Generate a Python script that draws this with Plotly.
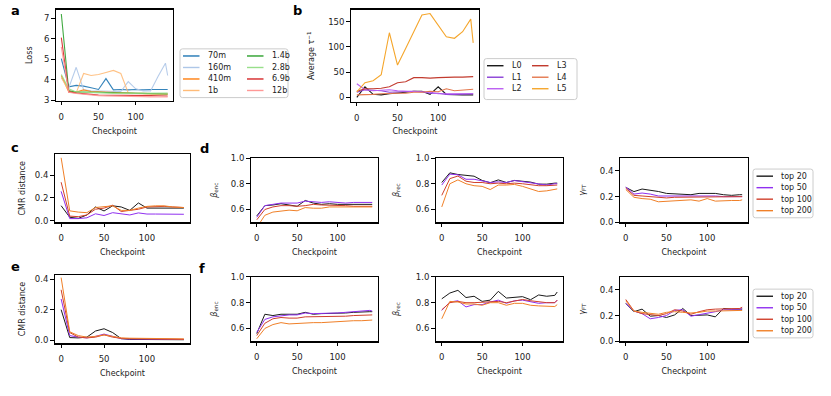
import plotly.graph_objects as go

W, H = 831, 396

checkpoints = [0, 10, 20, 30, 40, 50, 60, 70, 80, 90, 100, 110, 120, 130, 140, 143]

# ---- panel a: loss per model size ----
model_names = ["70m", "160m", "410m", "1b", "1.4b", "2.8b", "6.9b", "12b"]
loss_70m = [5.02, 3.65, 3.72, 3.68, 3.6, 3.52, 4.05, 3.5, 3.52, 3.5, 3.52, 3.5, 3.52, 3.52, 3.52, 3.52]
loss_160m = [4.1, 3.6, 4.6, 3.5, 3.45, 3.45, 3.45, 3.42, 3.42, 3.9, 3.55, 3.45, 3.45, 4.15, 4.8, 4.2]
loss_410m = [4.2, 3.4, 3.4, 3.5, 3.42, 3.4, 3.38, 3.38, 3.35, 3.35, 3.33, 3.33, 3.32, 3.3, 3.3, 3.3]
loss_1b = [4.1, 3.45, 3.35, 4.3, 4.2, 4.25, 4.35, 4.45, 4.3, 3.35, 3.32, 3.3, 3.3, 3.28, 3.28, 3.28]
loss_1_4b = [7.2, 3.45, 3.4, 3.38, 3.38, 3.38, 3.36, 3.35, 3.35, 3.34, 3.33, 3.32, 3.32, 3.31, 3.3, 3.3]
loss_2_8b = [4.25, 3.55, 3.4, 3.38, 3.36, 3.35, 3.35, 3.33, 3.33, 3.33, 3.32, 3.32, 3.32, 3.32, 3.33, 3.35]
loss_6_9b = [6.05, 3.4, 3.35, 3.3, 3.28, 3.25, 3.25, 3.22, 3.22, 3.22, 3.22, 3.22, 3.22, 3.21, 3.2, 3.2]
loss_12b = [5.6, 3.38, 3.32, 3.28, 3.25, 3.22, 3.2, 3.2, 3.18, 3.18, 3.18, 3.17, 3.16, 3.15, 3.15, 3.15]
model_colors = ["#1f77b4", "#aec7e8", "#ff7f0e", "#ffbb78", "#2ca02c", "#98df8a", "#d62728", "#ff9896"]

# ---- panel b: average tau^-1 per layer ----
layer_names = ["L0", "L1", "L2", "L3", "L4", "L5"]
tau_L0 = [0, 21, 6, 5, 7, 8, 10, 12, 12, 6, 21, 6, 5, 5, 5, 5]
tau_L1 = [10, 15, 14, 13, 10, 11, 12, 12, 11, 8, 8, 6, 6, 6, 7, 7]
tau_L2 = [27, 15, 13, 14, 15, 13, 12, 12, 11, 10, 7, 7, 7, 7, 7, 7]
tau_L3 = [12, 17, 17, 18, 21, 29, 31, 39, 39, 38, 39, 40, 40, 40, 41, 41]
tau_L4 = [5, 5, 6, 7, 8, 8, 8, 10, 10, 12, 11, 17, 13, 14, 16, 16]
tau_L5 = [11, 29, 33, 45, 128, 64, 97, 130, 163, 166, 143, 120, 117, 130, 155, 108]
layer_colors = ["#1a1a1a", "#8a3fd6", "#bb5ef2", "#c23b2e", "#e4784e", "#f5a62c"]

# ---- panels c-f: top-k series ----
topk_names = ["top 20", "top 50", "top 100", "top 200"]
topk_colors = ["#1a1a1a", "#9030f0", "#d0402c", "#f08028"]

cmr_c_top20 = [0.131, 0.03, 0.02, 0.05, 0.12, 0.085, 0.13, 0.12, 0.09, 0.155, 0.11, 0.11, 0.11, 0.11, 0.11, 0.11]
cmr_c_top50 = [0.257, 0.018, 0.018, 0.025, 0.06, 0.045, 0.07, 0.06, 0.05, 0.068, 0.058, 0.058, 0.058, 0.057, 0.056, 0.056]
cmr_c_top100 = [0.337, 0.04, 0.035, 0.05, 0.1, 0.11, 0.135, 0.08, 0.09, 0.1, 0.12, 0.125, 0.125, 0.12, 0.115, 0.115]
cmr_c_top200 = [0.551, 0.086, 0.075, 0.07, 0.115, 0.12, 0.13, 0.09, 0.09, 0.11, 0.125, 0.13, 0.13, 0.12, 0.115, 0.115]

benc_d_top20 = [0.55, 0.63, 0.635, 0.645, 0.635, 0.625, 0.67, 0.65, 0.64, 0.645, 0.64, 0.64, 0.64, 0.64, 0.64, 0.64]
benc_d_top50 = [0.54, 0.63, 0.64, 0.65, 0.65, 0.65, 0.665, 0.66, 0.655, 0.66, 0.655, 0.65, 0.655, 0.655, 0.655, 0.655]
benc_d_top100 = [0.52, 0.6, 0.62, 0.63, 0.63, 0.625, 0.63, 0.64, 0.635, 0.635, 0.63, 0.63, 0.625, 0.625, 0.625, 0.625]
benc_d_top200 = [0.46, 0.555, 0.58, 0.59, 0.595, 0.59, 0.615, 0.61, 0.61, 0.62, 0.62, 0.615, 0.62, 0.615, 0.615, 0.62]

brec_d_top20 = [0.81, 0.885, 0.872, 0.864, 0.859, 0.826, 0.808, 0.83, 0.81, 0.826, 0.818, 0.813, 0.797, 0.797, 0.805, 0.805]
brec_d_top50 = [0.79, 0.875, 0.87, 0.835, 0.835, 0.82, 0.81, 0.815, 0.81, 0.825, 0.815, 0.805, 0.795, 0.79, 0.8, 0.8]
brec_d_top100 = [0.71, 0.84, 0.86, 0.82, 0.81, 0.81, 0.8, 0.805, 0.8, 0.805, 0.8, 0.79, 0.785, 0.785, 0.79, 0.79]
brec_d_top200 = [0.62, 0.8, 0.83, 0.8, 0.785, 0.78, 0.755, 0.79, 0.79, 0.795, 0.78, 0.76, 0.74, 0.745, 0.755, 0.76]

gft_d_top20 = [0.272, 0.239, 0.259, 0.25, 0.24, 0.225, 0.22, 0.22, 0.215, 0.225, 0.225, 0.225, 0.215, 0.21, 0.215, 0.215]
gft_d_top50 = [0.275, 0.22, 0.228, 0.22, 0.205, 0.205, 0.205, 0.21, 0.205, 0.21, 0.205, 0.205, 0.2, 0.2, 0.2, 0.2]
gft_d_top100 = [0.265, 0.21, 0.205, 0.2, 0.19, 0.19, 0.195, 0.195, 0.195, 0.2, 0.2, 0.2, 0.195, 0.195, 0.2, 0.2]
gft_d_top200 = [0.255, 0.195, 0.185, 0.18, 0.16, 0.165, 0.17, 0.17, 0.175, 0.165, 0.185, 0.165, 0.17, 0.17, 0.17, 0.175]

cmr_e_top20 = [0.2, 0.017, 0.015, 0.02, 0.06, 0.075, 0.05, 0.01, 0.005, 0.004, 0.004, 0.003, 0.003, 0.003, 0.003, 0.003]
cmr_e_top50 = [0.27, 0.03, 0.02, 0.015, 0.025, 0.04, 0.025, 0.01, 0.008, 0.007, 0.006, 0.006, 0.005, 0.005, 0.005, 0.005]
cmr_e_top100 = [0.33, 0.05, 0.02, 0.015, 0.02, 0.035, 0.02, 0.012, 0.01, 0.01, 0.008, 0.007, 0.006, 0.006, 0.005, 0.005]
cmr_e_top200 = [0.41, 0.055, 0.03, 0.02, 0.025, 0.035, 0.025, 0.015, 0.013, 0.012, 0.01, 0.01, 0.01, 0.01, 0.009, 0.009]

benc_f_top20 = [0.56, 0.71, 0.7, 0.71, 0.71, 0.71, 0.725, 0.71, 0.715, 0.715, 0.72, 0.72, 0.725, 0.73, 0.73, 0.73]
benc_f_top50 = [0.57, 0.67, 0.69, 0.7, 0.705, 0.705, 0.72, 0.715, 0.715, 0.72, 0.72, 0.725, 0.73, 0.735, 0.74, 0.735]
benc_f_top100 = [0.545, 0.64, 0.675, 0.685, 0.68, 0.68, 0.69, 0.69, 0.69, 0.69, 0.69, 0.695, 0.7, 0.7, 0.7, 0.705]
benc_f_top200 = [0.52, 0.6, 0.63, 0.645, 0.635, 0.64, 0.645, 0.645, 0.645, 0.65, 0.65, 0.655, 0.66, 0.66, 0.665, 0.665]

brec_f_top20 = [0.83, 0.875, 0.896, 0.84, 0.85, 0.81, 0.82, 0.888, 0.836, 0.844, 0.847, 0.823, 0.86, 0.85, 0.857, 0.883]
brec_f_top50 = [0.74, 0.805, 0.815, 0.767, 0.785, 0.785, 0.805, 0.82, 0.795, 0.815, 0.82, 0.805, 0.795, 0.8, 0.8, 0.82]
brec_f_top100 = [0.745, 0.8, 0.81, 0.8, 0.8, 0.805, 0.81, 0.81, 0.8, 0.81, 0.825, 0.815, 0.805, 0.8, 0.8, 0.82]
brec_f_top200 = [0.675, 0.81, 0.805, 0.79, 0.79, 0.78, 0.8, 0.8, 0.78, 0.795, 0.795, 0.78, 0.775, 0.77, 0.77, 0.785]

gft_f_top20 = [0.294, 0.23, 0.25, 0.195, 0.2, 0.185, 0.205, 0.255, 0.2, 0.205, 0.205, 0.19, 0.255, 0.25, 0.25, 0.25]
gft_f_top50 = [0.295, 0.235, 0.215, 0.175, 0.185, 0.2, 0.24, 0.245, 0.195, 0.205, 0.22, 0.23, 0.245, 0.245, 0.245, 0.255]
gft_f_top100 = [0.325, 0.235, 0.215, 0.21, 0.2, 0.215, 0.245, 0.235, 0.21, 0.23, 0.245, 0.25, 0.25, 0.255, 0.255, 0.265]
gft_f_top200 = [0.315, 0.235, 0.225, 0.22, 0.21, 0.225, 0.23, 0.225, 0.22, 0.225, 0.235, 0.235, 0.235, 0.235, 0.235, 0.24]

FONT = "DejaVu Sans"
TXT = "#222222"
fig = go.Figure()

def px_x(a, b):
    return [a / W, b / W]

def px_y(top, bottom):
    return [1 - bottom / H, 1 - top / H]

# axis boxes in pixels: (left, right, top, bottom)
boxes = {
    1: (56, 173, 5, 98),
    2: (351, 479, 5, 99),
    3: (55, 190, 153, 223),
    4: (251, 378, 157, 223),
    5: (436, 563, 157, 223),
    6: (620, 748, 157, 223),
    7: (55, 190, 277, 347),
    8: (251, 378, 279, 345),
    9: (436, 563, 279, 345),
    10: (620, 748, 279, 345),
}

# (range, tickvals, format, title, title standoff)
yspecs = {
    1: ([2.98, 7.4], [3, 4, 5, 6, 7], None, "Loss", 10),
    2: ([-8.2, 173.3], [0, 50, 100, 150], None, "Average τ<sup>−1</sup>", 12),
    3: ([-0.015, 0.583], [0.0, 0.2, 0.4], ".1f", "CMR distance", 8),
    4: ([0.5, 1.0], [0.6, 0.8, 1.0], ".1f", "<i>β</i><sub>enc</sub>", 12),
    5: ([0.5, 1.0], [0.6, 0.8, 1.0], ".1f", "<i>β</i><sub>rec</sub>", 15),
    6: ([0.0, 0.5], [0.0, 0.2, 0.4], ".1f", "<i>γ</i><sub>FT</sub>", 13),
    7: ([-0.02, 0.427], [0.0, 0.2, 0.4], ".1f", "CMR distance", 8),
    8: ([0.5, 1.0], [0.6, 0.8, 1.0], ".1f", "<i>β</i><sub>enc</sub>", 12),
    9: ([0.5, 1.0], [0.6, 0.8, 1.0], ".1f", "<i>β</i><sub>rec</sub>", 15),
    10: ([0.0, 0.5], [0.0, 0.2, 0.4], ".1f", "<i>γ</i><sub>FT</sub>", 13),
}

common = dict(showline=True, linecolor="black", linewidth=1.4, mirror=True,
              ticks="outside", ticklen=3.5, tickwidth=1, tickcolor="black",
              showgrid=False, zeroline=False,
              tickfont=dict(family=FONT, size=8.5, color=TXT))

layout = {}
for i, (l, r, t, b) in boxes.items():
    sfx = "" if i == 1 else str(i)
    rng, tv, fmt, ytitle, ystand = yspecs[i]
    xa = dict(common, domain=px_x(l, r), range=[-7.15, 150.15], tickvals=[0, 50, 100],
              anchor="y" + sfx, ticklabelstandoff=4,
              title=dict(text="Checkpoint", font=dict(family=FONT, size=8, color=TXT), standoff=7))
    ya = dict(common, domain=px_y(t, b), range=rng, tickvals=tv, anchor="x" + sfx,
              title=dict(text=ytitle, font=dict(family=FONT, size=8, color=TXT), standoff=ystand))
    if fmt:
        ya["tickformat"] = fmt
    layout["xaxis" + sfx] = xa
    layout["yaxis" + sfx] = ya

def add(xi, yvals, name, color, width=1.0, opacity=1.0):
    sfx = "" if xi == 1 else str(xi)
    fig.add_trace(go.Scatter(
        x=checkpoints, y=yvals, mode="lines", name=name,
        line=dict(color=color, width=width), opacity=opacity,
        xaxis="x" + sfx, yaxis="y" + sfx, showlegend=False, hoverinfo="skip"))

# panel a
loss_series = [loss_70m, loss_160m, loss_410m, loss_1b, loss_1_4b, loss_2_8b, loss_6_9b, loss_12b]
for nm, ys, c in zip(model_names, loss_series, model_colors):
    add(1, ys, nm, c, width=1.1, opacity=0.9)

# panel b
tau_series = [tau_L0, tau_L1, tau_L2, tau_L3, tau_L4, tau_L5]
for nm, ys, c in zip(layer_names, tau_series, layer_colors):
    add(2, ys, nm, c, width=1.1)

panel_series = {
    3: [cmr_c_top20, cmr_c_top50, cmr_c_top100, cmr_c_top200],
    4: [benc_d_top20, benc_d_top50, benc_d_top100, benc_d_top200],
    5: [brec_d_top20, brec_d_top50, brec_d_top100, brec_d_top200],
    6: [gft_d_top20, gft_d_top50, gft_d_top100, gft_d_top200],
    7: [cmr_e_top20, cmr_e_top50, cmr_e_top100, cmr_e_top200],
    8: [benc_f_top20, benc_f_top50, benc_f_top100, benc_f_top200],
    9: [brec_f_top20, brec_f_top50, brec_f_top100, brec_f_top200],
    10: [gft_f_top20, gft_f_top50, gft_f_top100, gft_f_top200],
}
for xi, series in panel_series.items():
    for nm, ys, c in zip(topk_names, series, topk_colors):
        add(xi, ys, nm, c, width=1.0)

# ---- compact matplotlib-style legends (frame, swatches, labels) ----
shapes = []
annotations = []

def rounded_box(x0, y0, x1, y1, r=2.5):
    X = lambda v: v / W
    Y = lambda v: 1 - v / H
    rx, ry = r / W, r / H
    p = (f"M {X(x0)+rx},{Y(y0)} L {X(x1)-rx},{Y(y0)} Q {X(x1)},{Y(y0)} {X(x1)},{Y(y0)-ry} "
         f"L {X(x1)},{Y(y1)+ry} Q {X(x1)},{Y(y1)} {X(x1)-rx},{Y(y1)} "
         f"L {X(x0)+rx},{Y(y1)} Q {X(x0)},{Y(y1)} {X(x0)},{Y(y1)+ry} "
         f"L {X(x0)},{Y(y0)-ry} Q {X(x0)},{Y(y0)} {X(x0)+rx},{Y(y0)} Z")
    return dict(type="path", path=p, xref="paper", yref="paper",
                line=dict(color="#cccccc", width=1), fillcolor="rgba(255,255,255,0.8)", layer="above")

def legend_block(box, col_x, names, colors, nrows, row_gap=11.8, first_off=7.3):
    x0, y0, x1, y1 = box
    shapes.append(rounded_box(x0, y0, x1, y1))
    for k, (nm, c) in enumerate(zip(names, colors)):
        col, row = divmod(k, nrows)
        sx = col_x[col]
        yy = y0 + first_off + row * row_gap
        shapes.append(dict(type="line", xref="paper", yref="paper",
                           x0=sx / W, x1=(sx + 16.5) / W, y0=1 - yy / H, y1=1 - yy / H,
                           line=dict(color=c, width=1.4), layer="above"))
        annotations.append(dict(text=nm, x=(sx + 22.5) / W, y=1 - yy / H, xref="paper", yref="paper",
                                xanchor="left", yanchor="middle", showarrow=False,
                                font=dict(family=FONT, size=8, color=TXT)))

legend_block((180, 45, 288, 95), [183, 247], model_names, model_colors, 4)
legend_block((484, 55, 577, 97), [487, 532], layer_names, layer_colors, 3)
legend_block((753, 168.3, 813, 218.3), [756.5], topk_names, topk_colors, 4)
legend_block((753, 291.5, 813, 341.5), [756.5], topk_names, topk_colors, 4)

panel_labels = [("a", 15, 6), ("b", 297, 6), ("c", 15, 146), ("d", 204, 147), ("e", 15, 268), ("f", 202, 270)]
for t, x, y in panel_labels:
    annotations.append(dict(text="<b>%s</b>" % t, x=x / W, y=1 - y / H, xref="paper", yref="paper",
                            xanchor="center", yanchor="middle", showarrow=False,
                            font=dict(family=FONT, size=13, color="black")))

fig.update_layout(width=W, height=H, margin=dict(l=0, r=0, t=0, b=0),
                  paper_bgcolor="white", plot_bgcolor="white", showlegend=False,
                  font=dict(family=FONT, size=8, color=TXT),
                  shapes=shapes, annotations=annotations, **layout)

fig.write_html("out.html", config={"displayModeBar": False, "staticPlot": True},
               post_script="document.body.style.margin='0px';document.body.style.overflow='hidden';")
